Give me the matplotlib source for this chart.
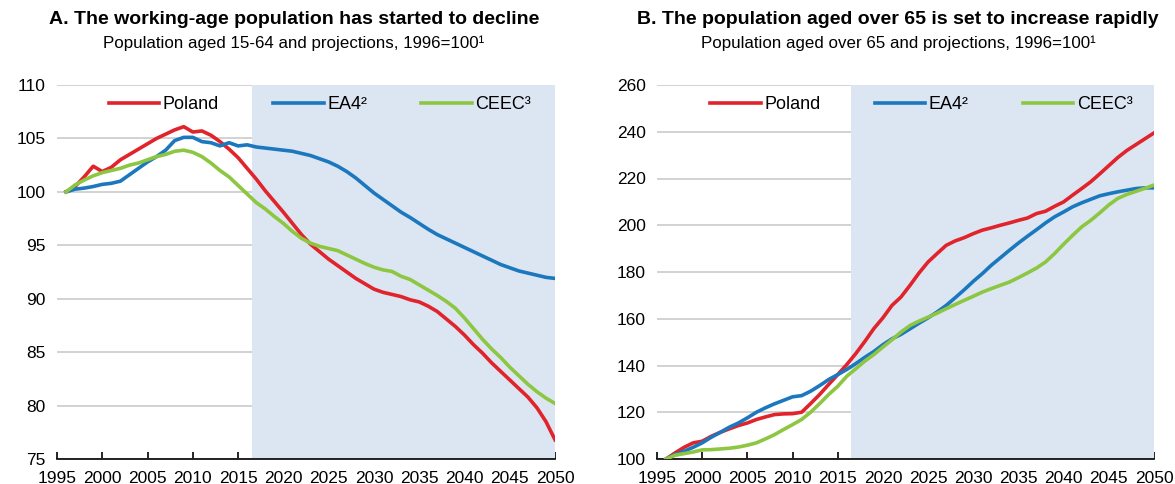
import matplotlib.pyplot as plt

plt.rcParams['font.family'] = ['Liberation Sans', 'DejaVu Sans']

lata = list(range(1996, 2051))

# A: population aged 15-64, 1996=100
a_poland = [100.0, 100.5, 101.4, 102.4, 101.9, 102.3, 103.0, 103.5, 104.0, 104.5,
            105.0, 105.4, 105.8, 106.1, 105.6, 105.7, 105.3, 104.7, 104.0, 103.2,
            102.2, 101.2, 100.1, 99.1, 98.1, 97.05, 96.0, 95.1, 94.4, 93.7,
            93.1, 92.5, 91.9, 91.4, 90.9, 90.6, 90.4, 90.2, 89.9, 89.7,
            89.3, 88.8, 88.1, 87.4, 86.6, 85.7, 84.9, 84.0, 83.2, 82.4,
            81.6, 80.8, 79.8, 78.5, 76.8]
a_ea4 = [100.0, 100.25, 100.35, 100.5, 100.7, 100.8, 101.0, 101.6, 102.2, 102.8,
         103.3, 103.9, 104.8, 105.1, 105.1, 104.7, 104.6, 104.3, 104.6, 104.3,
         104.4, 104.2, 104.1, 104.0, 103.9, 103.8, 103.6, 103.4, 103.1, 102.8,
         102.4, 101.9, 101.3, 100.6, 99.9, 99.3, 98.7, 98.1, 97.6, 97.05,
         96.5, 96.0, 95.6, 95.2, 94.8, 94.4, 94.0, 93.6, 93.2, 92.9,
         92.6, 92.4, 92.2, 92.0, 91.9]
a_ceec = [100.0, 100.65, 101.1, 101.5, 101.8, 102.0, 102.2, 102.5, 102.7, 103.0,
          103.3, 103.5, 103.8, 103.9, 103.7, 103.3, 102.7, 102.0, 101.4, 100.6,
          99.8, 99.0, 98.4, 97.7, 97.05, 96.3, 95.65, 95.2, 94.9, 94.7,
          94.5, 94.1, 93.7, 93.3, 92.95, 92.7, 92.55, 92.1, 91.8, 91.3,
          90.8, 90.3, 89.75, 89.1, 88.2, 87.2, 86.2, 85.3, 84.5, 83.6,
          82.8, 82.0, 81.3, 80.7, 80.2]

# B: population aged over 65, 1996=100
b_poland = [100.0, 102.6, 105.0, 106.9, 107.6, 109.7, 111.4, 112.9, 114.3, 115.4,
            116.9, 118.0, 119.0, 119.3, 119.4, 120.0, 123.7, 127.6, 131.9, 136.1,
            140.4, 145.1, 150.3, 155.8, 160.4, 165.7, 169.3, 174.3, 179.6, 184.3,
            187.9, 191.4, 193.3, 194.7, 196.4, 197.9, 198.9, 200.0, 201.0, 202.1,
            203.1, 205.0, 206.0, 208.1, 210.0, 212.9, 215.7, 218.6, 222.0, 225.5,
            229.0, 232.0, 234.5, 237.0, 239.5]
b_ea4 = [100.0, 101.9, 103.3, 105.0, 106.9, 109.3, 111.4, 113.6, 115.4, 117.6,
         120.0, 121.9, 123.6, 125.1, 126.6, 127.1, 129.0, 131.4, 134.0, 136.1,
         138.3, 140.8, 143.5, 146.0, 148.9, 151.4, 153.3, 155.7, 158.1, 160.4,
         162.9, 165.7, 169.0, 172.4, 176.0, 179.3, 182.9, 186.1, 189.3, 192.4,
         195.3, 198.1, 201.0, 203.6, 205.7, 207.9, 209.6, 211.1, 212.6, 213.5,
         214.3, 215.0, 215.7, 216.0, 216.0]
b_ceec = [100.0, 101.6, 102.3, 103.0, 103.9, 104.0, 104.3, 104.6, 105.1, 105.9,
          106.9, 108.6, 110.4, 112.6, 114.7, 116.9, 120.0, 123.7, 127.6, 131.1,
          135.4, 138.6, 141.9, 144.7, 147.9, 151.0, 154.3, 157.1, 159.0, 160.7,
          162.4, 164.3, 166.1, 167.9, 169.6, 171.4, 172.9, 174.3, 175.7, 177.6,
          179.6, 181.7, 184.3, 187.9, 191.9, 195.7, 199.3, 202.1, 205.3, 208.7,
          211.5, 213.2, 214.5, 215.8, 217.2]

nazwy = ['Poland', 'EA4²', 'CEEC³']
kolory = ['#E1232B', '#1C78BE', '#8DC641']
poczatek_proj = 2016.5

fig = plt.figure(figsize=(11.75, 4.84), dpi=100)
ax1 = fig.add_axes([57 / 1175, 25 / 484, 498 / 1175, 374 / 484])
ax2 = fig.add_axes([657 / 1175, 25 / 484, 497 / 1175, 374 / 484])


def rysuj(ax, serie, ylim, krok, leg_x):
    ax.axvspan(poczatek_proj, 2050, color='#DCE6F2', lw=0, zorder=1)
    for y, nazwa, kolor in zip(serie, nazwy, kolory):
        ax.plot(lata, y, color=kolor, lw=2.6, label=nazwa, zorder=3)
    ax.set_xlim(1995, 2050)
    ax.set_ylim(*ylim)
    ax.set_xticks(range(1995, 2051, 5))
    ax.set_yticks(range(ylim[0], ylim[1] + 1, krok))
    ax.set_axisbelow(True)
    ax.yaxis.grid(True, color='#CBCBCB', lw=1.2)
    for s in ['top', 'right', 'left']:
        ax.spines[s].set_visible(False)
    ax.spines['bottom'].set_linewidth(1.2)
    ax.tick_params(axis='x', direction='in', length=5, width=1.2, labelsize=12.5, pad=8.5)
    ax.tick_params(axis='y', length=0, labelsize=12.5, pad=8)
    ax.legend(loc='center', bbox_to_anchor=(leg_x, 0.947), ncol=3, frameon=False,
              fontsize=13, handlelength=2.8, handletextpad=0.2, columnspacing=3.0)


rysuj(ax1, [a_poland, a_ea4, a_ceec], (75, 110), 5, 0.528)
rysuj(ax2, [b_poland, b_ea4, b_ceec], (100, 260), 20, 0.532)

fig.text(294 / 1175, 1 - 20 / 484, 'A. The working-age population has started to decline',
         ha='center', va='center', fontsize=14, fontweight='bold')
fig.text(294 / 1175, 1 - 43 / 484, 'Population aged 15-64 and projections, 1996=100¹',
         ha='center', va='center', fontsize=12.2)
fig.text(898 / 1175, 1 - 20 / 484, 'B. The population aged over 65 is set to increase rapidly',
         ha='center', va='center', fontsize=14, fontweight='bold')
fig.text(898 / 1175, 1 - 43 / 484, 'Population aged over 65 and projections, 1996=100¹',
         ha='center', va='center', fontsize=12.2)

fig.savefig('out.png', dpi=100)
